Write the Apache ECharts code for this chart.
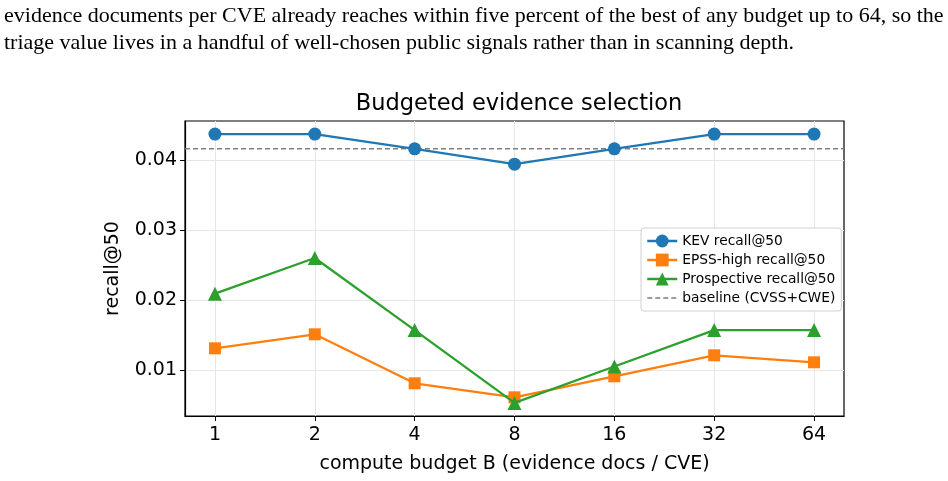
<!DOCTYPE html>
<html>
<head>
<meta charset="utf-8">
<script src="https://cdn.jsdelivr.net/npm/echarts@6/dist/echarts.min.js"></script>
<style>
    html, body { margin: 0; padding: 0; background: #fff; }
    #wrap { position: relative; width: 948px; height: 481px; overflow: hidden; }
    #para {
        position: absolute; left: 4px; top: 1px; width: 944px;
        font-family: "Liberation Serif", serif; font-size: 22px; line-height: 27px;
        color: #000; white-space: nowrap;
    }
    #chart { position: absolute; left: 0; top: 0; width: 948px; height: 481px; }
</style>
</head>
<body>
<div id="wrap">
    <div id="chart"></div>
    <div id="para">evidence documents per CVE already reaches within five percent of the best of any budget up to 64, so the<br>triage value lives in a handful of well-chosen public signals rather than in scanning depth.</div>
</div>
<script>
// values
const budgets = ['1', '2', '4', '8', '16', '32', '64'];
const kevRecall = [0.0437, 0.0437, 0.0416, 0.0394, 0.0416, 0.0437, 0.0437];
const epssRecall = [0.0131, 0.0151, 0.0081, 0.0061, 0.0091, 0.0121, 0.0111];
const prospectiveRecall = [0.0209, 0.0260, 0.0157, 0.0053, 0.0105, 0.0157, 0.0157];
const baselineRecall = 0.0416;
const yTicks = [0.01, 0.02, 0.03, 0.04];

const FONT = 'DejaVu Sans';
const X_MIN = -0.3, X_MAX = 6.3;
const chart = echarts.init(document.getElementById('chart'));

// budgets are evenly spaced (log2), so plot against their index
const toPoints = arr => arr.map((v, i) => [i, v]);
const xIdx = budgets.map((b, i) => i);

const option = {
    animation: false,
    textStyle: { fontFamily: FONT },
    title: {
        text: 'Budgeted evidence selection',
        left: 514, top: 88, textAlign: 'center',
        textStyle: { fontFamily: FONT, fontSize: 22.5, fontWeight: 'normal', color: '#000' }
    },
    grid: {
        left: 185, right: 104, top: 121, bottom: 65,
        show: true, borderColor: '#000', borderWidth: 1.2, backgroundColor: 'transparent'
    },
    legend: {
        orient: 'vertical',
        left: 641, top: 228,
        backgroundColor: '#fff',
        borderColor: '#d0d0d0', borderWidth: 1, borderRadius: 3,
        padding: [6, 6, 6, 5],
        itemGap: 5, itemWidth: 30, itemHeight: 16,
        lineStyle: { width: 2.5 },
        textStyle: { fontFamily: FONT, fontSize: 13.8, color: '#000' },
        data: [
            'KEV recall@50', 'EPSS-high recall@50', 'Prospective recall@50',
            { name: 'baseline (CVSS+CWE)', itemStyle: { opacity: 0 }, lineStyle: { width: 1.5 } }
        ]
    },
    xAxis: {
        type: 'value',
        min: X_MIN, max: X_MAX,
        name: 'compute budget B (evidence docs / CVE)',
        nameLocation: 'middle', nameGap: 39,
        nameTextStyle: { fontFamily: FONT, fontSize: 19, color: '#000' },
        axisLine: { show: true, onZero: false, lineStyle: { color: '#000', width: 1.2 } },
        axisTick: { show: true, length: 5, customValues: xIdx, lineStyle: { color: '#000' } },
        axisLabel: {
            customValues: xIdx, margin: 10,
            fontFamily: FONT, fontSize: 19, color: '#000',
            formatter: v => budgets[v]
        },
        splitLine: { show: true, lineStyle: { color: '#e6e6e6', width: 1 } }
    },
    yAxis: {
        type: 'value',
        min: 0.00343, max: 0.04557,
        name: 'recall@50',
        nameLocation: 'middle', nameGap: 62,
        nameTextStyle: { fontFamily: FONT, fontSize: 19, color: '#000' },
        axisLine: { show: true, onZero: false, lineStyle: { color: '#000', width: 1.2 } },
        axisTick: { show: true, length: 5, customValues: yTicks, lineStyle: { color: '#000' } },
        axisLabel: {
            customValues: yTicks, margin: 8,
            fontFamily: FONT, fontSize: 19, color: '#000',
            formatter: v => v.toFixed(2)
        },
        splitLine: { show: true, lineStyle: { color: '#e6e6e6', width: 1 } }
    },
    series: [
        {
            name: 'baseline (CVSS+CWE)',
            type: 'line',
            data: [[X_MIN, baselineRecall], [X_MAX, baselineRecall]],
            symbol: 'none', showSymbol: false,
            lineStyle: { color: '#808080', width: 1.5, type: [5, 3] },
            itemStyle: { color: '#808080' },
            silent: true,
            z: 1
        },
        {
            name: 'KEV recall@50',
            type: 'line',
            data: toPoints(kevRecall),
            symbol: 'circle', symbolSize: 13,
            lineStyle: { color: '#1f77b4', width: 2.3 },
            itemStyle: { color: '#1f77b4' },
            z: 3
        },
        {
            name: 'EPSS-high recall@50',
            type: 'line',
            data: toPoints(epssRecall),
            symbol: 'rect', symbolSize: 12,
            lineStyle: { color: '#ff7f0e', width: 2.3 },
            itemStyle: { color: '#ff7f0e' },
            z: 4
        },
        {
            name: 'Prospective recall@50',
            type: 'line',
            data: toPoints(prospectiveRecall),
            symbol: 'triangle', symbolSize: 14,
            lineStyle: { color: '#2ca02c', width: 2.3 },
            itemStyle: { color: '#2ca02c' },
            z: 5
        }
    ]
};

chart.setOption(option);
</script>
</body>
</html>
